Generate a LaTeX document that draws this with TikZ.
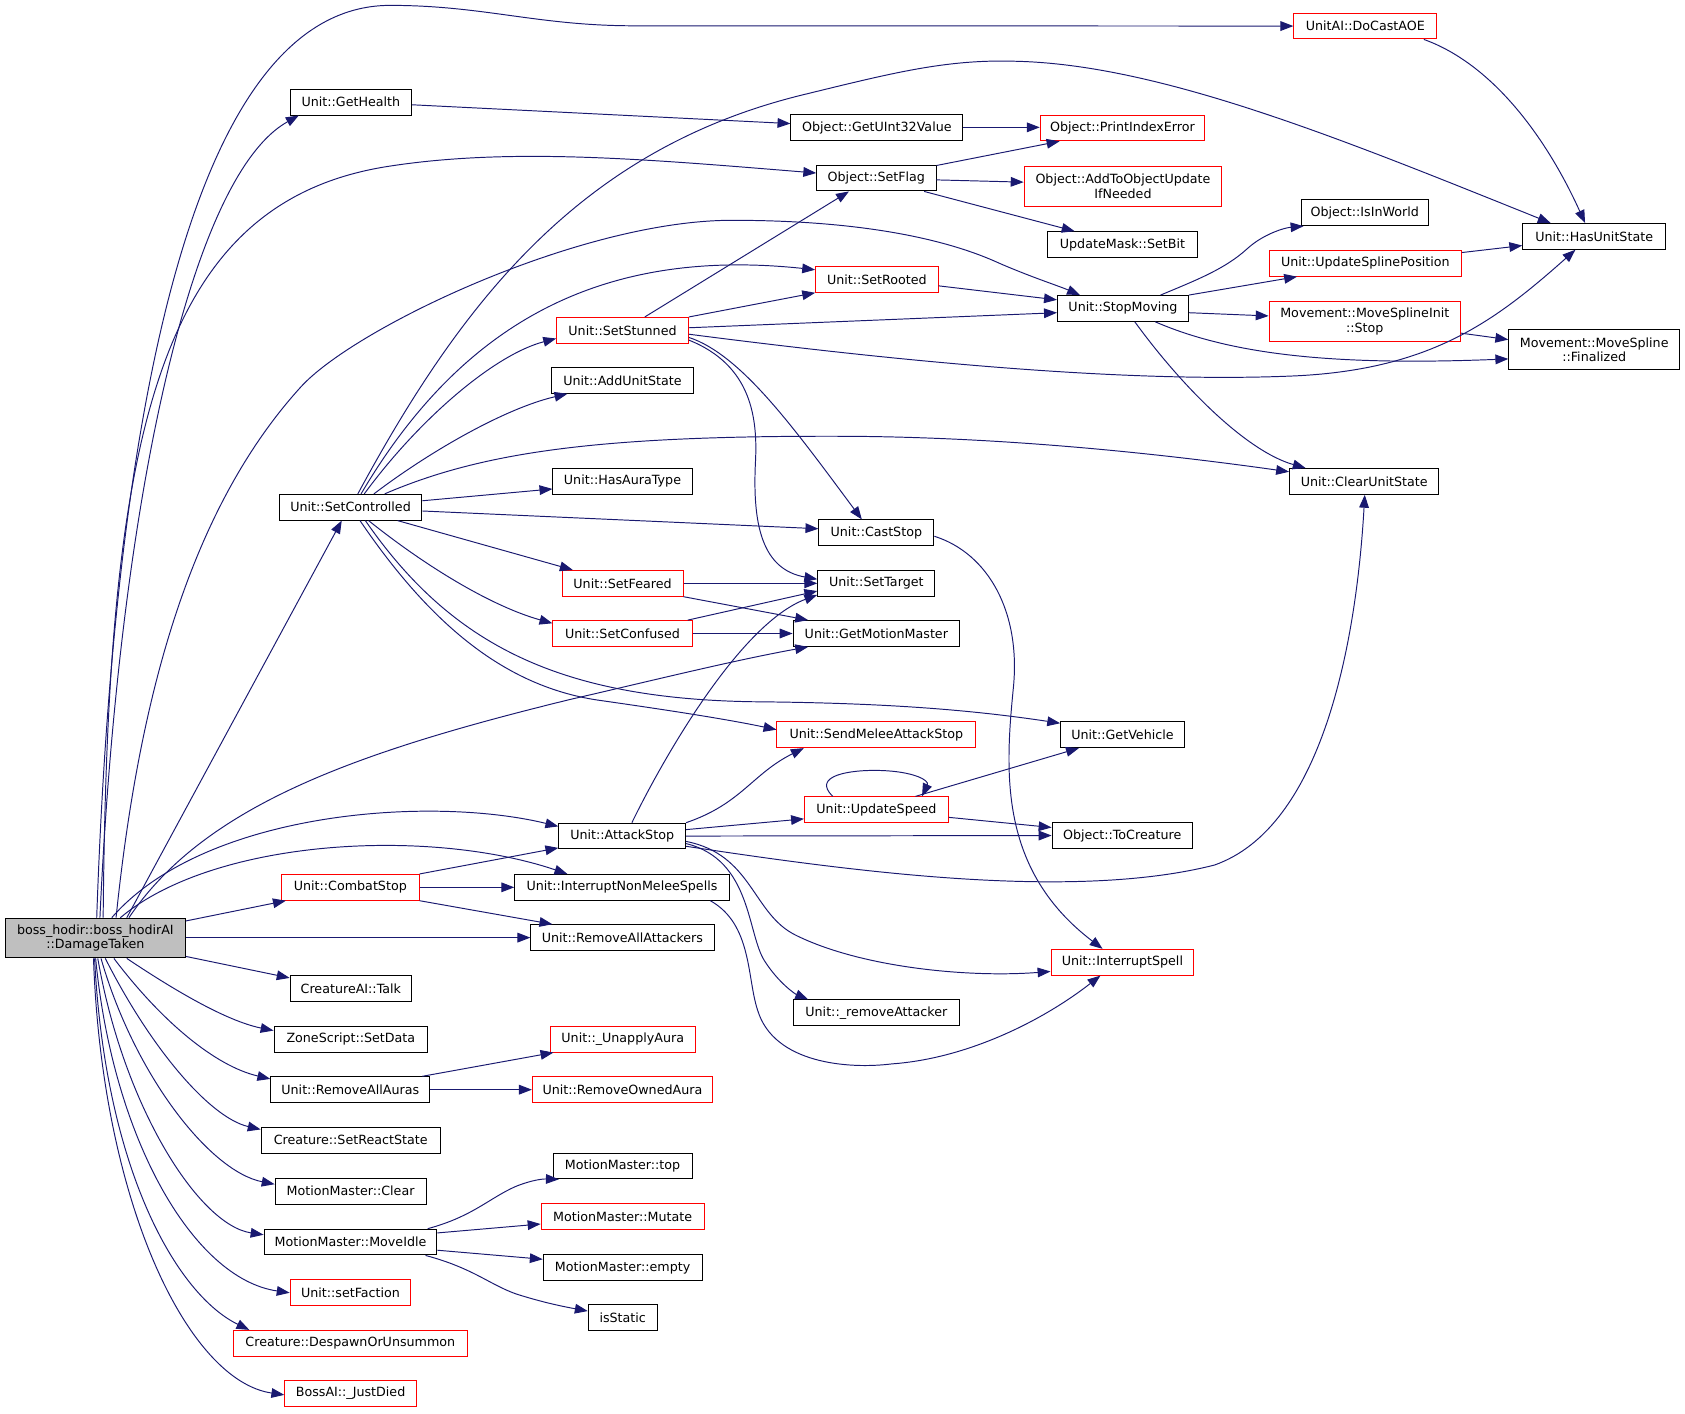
\documentclass[tikz,border=0pt]{standalone}
\usepackage{fontspec}
\setmainfont{DejaVu Sans}
\usetikzlibrary{arrows.meta}
\definecolor{edgecol}{RGB}{25,25,112}
\definecolor{rootfill}{RGB}{191,191,191}
\newcommand{\fsz}{\fontsize{11.8pt}{13.7pt}\selectfont}
\begin{document}
\begin{tikzpicture}[x=1pt,y=-1pt,
  nbox/.style={draw=black, fill=white, line width=0.9pt, inner sep=0pt, minimum height=24pt, align=center, font=\fsz},
  rbox/.style={nbox, draw=red},
  tallbox/.style={minimum height=37pt},
  callarrow/.style={draw=edgecol, line width=0.9pt, -{Triangle[length=12pt,width=9pt]}}]
\fill[white] (0,0) rectangle (1568,1315);
\useasboundingbox (0,0) rectangle (1568,1315);

% nodes
\node[nbox, tallbox, fill=rootfill, minimum width=167.5pt] (root) at (88.75,872.9) {boss\_hodir::boss\_hodirAI\\::DamageTaken};
\node[rbox, minimum width=133pt] (DoCastAOE) at (1270.5,24.25) {UnitAI::DoCastAOE};
\node[nbox, minimum width=113pt] (GetHealth) at (326.5,95) {Unit::GetHealth};
\node[nbox, minimum width=160pt] (GetUInt) at (816,118.7) {Object::GetUInt32Value};
\node[rbox, minimum width=153pt] (PrintIndexError) at (1044.5,119) {Object::PrintIndexError};
\node[nbox, minimum width=111pt] (SetFlag) at (815.5,165.7) {Object::SetFlag};
\node[rbox, tallbox, minimum width=184pt] (AddToObj) at (1045,173.3) {Object::AddToObjectUpdate\\IfNeeded};
\node[nbox, minimum width=118pt] (IsInWorld) at (1270,198) {Object::IsInWorld};
\node[nbox, minimum width=133pt] (HasUnitState) at (1483.5,220) {Unit::HasUnitState};
\node[nbox, minimum width=139pt] (SetBit) at (1044.5,227.6) {UpdateMask::SetBit};
\node[rbox, minimum width=179pt] (UpdSpline) at (1270.5,245) {Unit::UpdateSplinePosition};
\node[rbox, minimum width=114pt] (SetRooted) at (816,260) {Unit::SetRooted};
\node[nbox, minimum width=122pt] (StopMoving) at (1045,287) {Unit::StopMoving};
\node[rbox, tallbox, minimum width=178pt] (MSIStop) at (1270,299.5) {Movement::MoveSplineInit\\::Stop};
\node[nbox, tallbox, minimum width=159pt] (Finalized) at (1483.5,325.5) {Movement::MoveSpline\\::Finalized};
\node[rbox, minimum width=122.6pt] (SetStunned) at (579.3,307.4) {Unit::SetStunned};
\node[nbox, minimum width=132.6pt] (AddUnitState) at (579.3,354) {Unit::AddUnitState};
\node[nbox, minimum width=129.5pt] (HasAuraType) at (579.25,448) {Unit::HasAuraType};
\node[nbox, minimum width=139pt] (ClearUnitState) at (1269.5,448) {Unit::ClearUnitState};
\node[nbox, minimum width=132.5pt] (SetControlled) at (326.25,472) {Unit::SetControlled};
\node[nbox, minimum width=107pt] (CastStop) at (815.5,495.8) {Unit::CastStop};
\node[rbox, minimum width=112.6pt] (SetFeared) at (579.3,542.8) {Unit::SetFeared};
\node[nbox, minimum width=109pt] (SetTarget) at (815.5,542.8) {Unit::SetTarget};
\node[rbox, minimum width=129.5pt] (SetConfused) at (579.25,589.5) {Unit::SetConfused};
\node[nbox, minimum width=155pt] (GetMotionMaster) at (815.5,589.5) {Unit::GetMotionMaster};
\node[rbox, minimum width=185pt] (SendMelee) at (815.5,683.7) {Unit::SendMeleeAttackStop};
\node[nbox, minimum width=115pt] (GetVehicle) at (1044.5,683.7) {Unit::GetVehicle};
\node[rbox, minimum width=134pt] (UpdateSpeed) at (815.6,753.5) {Unit::UpdateSpeed};
\node[nbox, minimum width=118pt] (AttackStop) at (579,778) {Unit::AttackStop};
\node[nbox, minimum width=130.5pt] (ToCreature) at (1044.25,777.5) {Object::ToCreature};
\node[rbox, minimum width=128pt] (CombatStop) at (326,825.7) {Unit::CombatStop};
\node[nbox, minimum width=199.6pt] (IntNonMelee) at (578.8,825.7) {Unit::InterruptNonMeleeSpells};
\node[nbox, minimum width=170.4pt] (RemAttackers) at (579.2,872.5) {Unit::RemoveAllAttackers};
\node[rbox, minimum width=133pt] (IntSpell) at (1044.5,895.4) {Unit::InterruptSpell};
\node[nbox, minimum width=113pt] (Talk) at (326.5,920) {CreatureAI::Talk};
\node[nbox, minimum width=155pt] (RemAttacker) at (815.5,942.5) {Unit::\_removeAttacker};
\node[nbox, minimum width=143pt] (SetData) at (326.5,967) {ZoneScript::SetData};
\node[rbox, minimum width=135pt] (Unapply) at (579.5,967) {Unit::\_UnapplyAura};
\node[nbox, minimum width=148pt] (RemAuras) at (326,1014) {Unit::RemoveAllAuras};
\node[rbox, minimum width=167.6pt] (RemOwned) at (579.2,1014) {Unit::RemoveOwnedAura};
\node[nbox, minimum width=166.7pt] (ReactState) at (326.35,1061) {Creature::SetReactState};
\node[nbox, minimum width=129.4pt] (MMtop) at (579.3,1085) {MotionMaster::top};
\node[nbox, minimum width=140.5pt] (MMClear) at (326.25,1108.4) {MotionMaster::Clear};
\node[rbox, minimum width=151.8pt] (MMMutate) at (579.4,1132.2) {MotionMaster::Mutate};
\node[nbox, minimum width=160.9pt] (MoveIdle) at (326.15,1155.8) {MotionMaster::MoveIdle};
\node[nbox, minimum width=147.8pt] (MMempty) at (579.4,1179.5) {MotionMaster::empty};
\node[nbox, minimum width=64.1pt] (isStatic) at (579.45,1226) {isStatic};
\node[rbox, minimum width=112.4pt] (setFaction) at (326.2,1202.7) {Unit::setFaction};
\node[rbox, minimum width=218pt] (Despawn) at (326,1250) {Creature::DespawnOrUnsummon};
\node[rbox, minimum width=122.5pt] (JustDied) at (326.25,1296.7) {BossAI::\_JustDied};

% edges from root
\draw[callarrow] (root.north -| 90,0) .. controls (105,420) and (170,5) .. (363,5) .. controls (450,5) and (500,24) .. (590,24) -- (DoCastAOE.west);
\draw[callarrow] (root.north -| 93,0) .. controls (110,480) and (175,165) .. (GetHealth.south -| 278,0);
\draw[callarrow] (root.north -| 96,0) .. controls (100,420) and (140,190) .. (360,155) .. controls (474,137) and (600,148) .. (SetFlag.west |- 0,161);
\draw[callarrow] (root.north -| 108,0) .. controls (130,640) and (180,470) .. (280,360) .. controls (330,305) and (540,205) .. (681,205) .. controls (800,205) and (880,222) .. (930,245) .. controls (960,258) and (985,266) .. (StopMoving.north -| 1005,0);
\draw[callarrow] (root.north -| 118,0) -- (SetControlled.south -| 318,0);
\draw[callarrow] (root.north -| 120,0) .. controls (190,750) and (330,700) .. (530,651) .. controls (600,635) and (680,615) .. (GetMotionMaster.south -| 752,0);
\draw[callarrow] (root.north -| 104,0) .. controls (190,755) and (400,740) .. (AttackStop.west |- 0,769);
\draw[callarrow] (root.north -| 112,0) .. controls (200,780) and (400,770) .. (IntNonMelee.north -| 528,0);
\draw[callarrow] (root.east |- 0,857) -- (CombatStop.south -| 266,0);
\draw[callarrow] (root.east |- 0,872.5) -- (RemAttackers.west);
\draw[callarrow] (root.east |- 0,890) -- (Talk.west |- 0,910);
\draw[callarrow] (root.south -| 118,0) .. controls (160,920) and (210,950) .. (SetData.west |- 0,959);
\draw[callarrow] (root.south -| 106,0) .. controls (150,950) and (200,992) .. (RemAuras.west |- 0,1004);
\draw[callarrow] (root.south -| 98,0) .. controls (140,975) and (195,1040) .. (ReactState.west |- 0,1051);
\draw[callarrow] (root.south -| 94,0) .. controls (125,1000) and (195,1090) .. (MMClear.west |- 0,1102);
\draw[callarrow] (root.south -| 91,0) .. controls (115,1030) and (185,1140) .. (MoveIdle.west |- 0,1149);
\draw[callarrow] (root.south -| 89,0) .. controls (105,1060) and (180,1190) .. (setFaction.west |- 0,1203);
\draw[callarrow] (root.south -| 88,0) .. controls (98,1090) and (165,1205) .. (Despawn.north -| 232,0);
\draw[callarrow] (root.south -| 87,0) .. controls (95,1120) and (175,1285) .. (JustDied.west |- 0,1298);

% upper right area
\draw[callarrow] (GetHealth.east |- 0,97.5) -- (GetUInt.west |- 0,115);
\draw[callarrow] (GetUInt.east |- 0,118.5) -- (PrintIndexError.west |- 0,118.5);
\draw[callarrow] (SetFlag.east |- 0,154) -- (PrintIndexError.south -| 986,0);
\draw[callarrow] (SetFlag.east |- 0,167.4) -- (AddToObj.west |- 0,169.5);
\draw[callarrow] (SetFlag.south -| 860,0) -- (SetBit.north -| 1000,0);
\draw[callarrow] (DoCastAOE.south -| 1325,0) .. controls (1390,60) and (1440,130) .. (HasUnitState.north -| 1475,0);

% from SetControlled
\draw[callarrow] (SetControlled.north -| 333,0) .. controls (430,280) and (540,140) .. (744,89) .. controls (830,68) and (880,55) .. (945,57) .. controls (1080,60) and (1250,130) .. (HasUnitState.north -| 1443,0);
\draw[callarrow] (SetControlled.north -| 336,0) .. controls (430,300) and (560,230) .. (SetRooted.west |- 0,251);
\draw[callarrow] (SetControlled.north -| 339,0) .. controls (390,390) and (460,330) .. (SetStunned.west |- 0,315);
\draw[callarrow] (SetControlled.north -| 348,0) .. controls (400,420) and (470,380) .. (AddUnitState.south -| 528,0);
\draw[callarrow] (SetControlled.east |- 0,466) -- (HasAuraType.west |- 0,455);
\draw[callarrow] (SetControlled.north -| 358,0) .. controls (450,420) and (560,405) .. (790,406) .. controls (950,407) and (1100,425) .. (ClearUnitState.west |- 0,439);
\draw[callarrow] (SetControlled.east |- 0,475.5) -- (CastStop.west |- 0,492);
\draw[callarrow] (SetControlled.south -| 370,0) -- (SetFeared.north -| 533,0);
\draw[callarrow] (SetControlled.south -| 343,0) .. controls (400,530) and (460,565) .. (SetConfused.west |- 0,580);
\draw[callarrow] (SetControlled.south -| 335,0) .. controls (400,580) and (470,640) .. (560,652) .. controls (630,662) and (680,670) .. (SendMelee.west |- 0,679);
\draw[callarrow] (SetControlled.south -| 340,0) .. controls (420,600) and (520,650) .. (700,653) .. controls (820,654) and (900,660) .. (GetVehicle.west |- 0,673);

% from SetStunned
\draw[callarrow] (SetStunned.north -| 600,0) -- (SetFlag.south -| 790,0);
\draw[callarrow] (SetStunned.north east) -- (SetRooted.south west);
\draw[callarrow] (SetStunned.east |- 0,305) -- (StopMoving.west |- 0,291);
\draw[callarrow] (SetStunned.east |- 0,311) .. controls (850,338) and (1050,356) .. (1200,350) .. controls (1330,345) and (1390,300) .. (HasUnitState.south -| 1466,0);
\draw[callarrow] (SetStunned.east |- 0,314) .. controls (690,330) and (740,400) .. (CastStop.north -| 802,0);
\draw[callarrow] (SetStunned.east |- 0,316.5) .. controls (700,340) and (705,390) .. (703,430) .. controls (700,490) and (710,530) .. (SetTarget.west |- 0,539);

% StopMoving area
\draw[callarrow] (SetRooted.east |- 0,266) -- (StopMoving.west |- 0,279);
\draw[callarrow] (StopMoving.north -| 1080,0) .. controls (1115,260) and (1140,250) .. (1160,232) .. controls (1175,218) and (1195,212) .. (IsInWorld.south -| 1213,0);
\draw[callarrow] (StopMoving.north east) -- (UpdSpline.south -| 1207,0);
\draw[callarrow] (StopMoving.east |- 0,291) -- (MSIStop.west |- 0,294);
\draw[callarrow] (StopMoving.south -| 1075,0) .. controls (1150,332) and (1250,340) .. (Finalized.west |- 0,334);
\draw[callarrow] (StopMoving.south -| 1056,0) .. controls (1100,360) and (1160,420) .. (ClearUnitState.north -| 1215,0);
\draw[callarrow] (UpdSpline.east |- 0,235) -- (HasUnitState.west |- 0,228.5);
\draw[callarrow] (MSIStop.east |- 0,310) -- (Finalized.west |- 0,316);

% feared / confused
\draw[callarrow] (SetFeared.east) -- (SetTarget.west);
\draw[callarrow] (SetFeared.south east) -- (GetMotionMaster.north -| 752,0);
\draw[callarrow] (SetConfused.north -| 640,0) -- (SetTarget.west |- 0,550);
\draw[callarrow] (SetConfused.east) -- (GetMotionMaster.west);
\draw[callarrow] (CastStop.east |- 0,499) .. controls (920,515) and (950,570) .. (943,640) .. controls (935,720) and (930,810) .. (IntSpell.north -| 1026,0);

% AttackStop
\draw[callarrow] (AttackStop.north -| 588,0) .. controls (620,700) and (690,580) .. (SetTarget.west |- 0,553.5);
\draw[callarrow] (AttackStop.north east) .. controls (690,748) and (700,720) .. (SendMelee.south -| 748,0);
\draw[callarrow] (AttackStop.east |- 0,772) -- (UpdateSpeed.west |- 0,762);
\draw[callarrow] (AttackStop.east |- 0,778) -- (ToCreature.west |- 0,777.5);
\draw[callarrow] (AttackStop.east |- 0,787.5) .. controls (800,812) and (1000,838) .. (1130,805) .. controls (1230,770) and (1262,600) .. (ClearUnitState.south -| 1270,0);
\draw[callarrow] (AttackStop.east |- 0,783) .. controls (700,795) and (700,850) .. (740,870) .. controls (800,900) and (900,910) .. (IntSpell.west |- 0,904);
\draw[callarrow] (AttackStop.east |- 0,785) .. controls (700,800) and (695,870) .. (712,895) .. controls (725,915) and (740,925) .. (RemAttacker.north -| 752,0);

% UpdateSpeed
\draw[callarrow] (UpdateSpeed.north -| 775,0) .. controls (755,722) and (790,716) .. (820,717) .. controls (850,718) and (865,726) .. (UpdateSpeed.north -| 858,0);
\draw[callarrow] (UpdateSpeed.north -| 852,0) -- (GetVehicle.south -| 1004,0);
\draw[callarrow] (UpdateSpeed.east |- 0,760.6) -- (ToCreature.west |- 0,770);

% CombatStop
\draw[callarrow] (CombatStop.north east) -- (AttackStop.west |- 0,789);
\draw[callarrow] (CombatStop.east) -- (IntNonMelee.west);
\draw[callarrow] (CombatStop.south east) -- (RemAttackers.north -| 514,0);
\draw[callarrow] (IntNonMelee.south -| 661,0) .. controls (700,860) and (695,910) .. (705,940) .. controls (720,990) and (790,995) .. (830,990) .. controls (900,985) and (970,950) .. (IntSpell.south -| 1024,0);

% auras
\draw[callarrow] (RemAuras.north -| 393,0) -- (Unapply.south -| 515,0);
\draw[callarrow] (RemAuras.east) -- (RemOwned.west);

% MoveIdle
\draw[callarrow] (MoveIdle.north -| 398,0) .. controls (440,1132) and (455,1115) .. (480,1104) .. controls (495,1098) and (505,1097) .. (MMtop.south -| 520,0);
\draw[callarrow] (MoveIdle.east |- 0,1147.3) -- (MMMutate.west |- 0,1139);
\draw[callarrow] (MoveIdle.east |- 0,1163.4) -- (MMempty.west |- 0,1171.8);
\draw[callarrow] (MoveIdle.south -| 396,0) .. controls (440,1180) and (455,1195) .. (480,1204) .. controls (505,1212) and (525,1216) .. (isStatic.west |- 0,1220);
\end{tikzpicture}
\end{document}
